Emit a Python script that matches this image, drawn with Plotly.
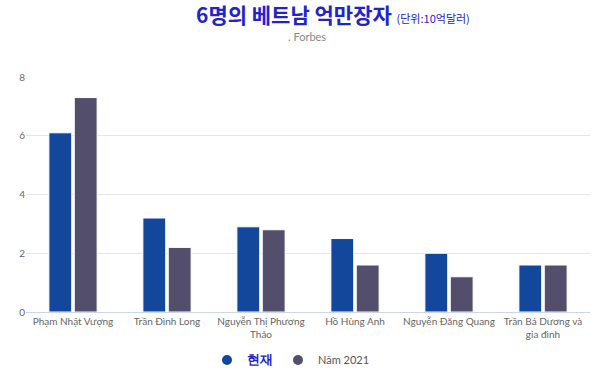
import plotly.graph_objects as go

categories = ["Phạm Nhật Vượng", "Trần Đình Long", "Nguyễn Thị Phương<br>Thảo",
              "Hồ Hùng Anh", "Nguyễn Đăng Quang", "Trần Bá Dương và<br>gia đình"]
current = [6.1, 3.2, 2.9, 2.5, 2.0, 1.6]
year2021 = [7.3, 2.2, 2.8, 1.6, 1.2, 1.6]
series_names = ["현재", "Năm 2021"]
colors = ["#12479b", "#544e6d"]
y_ticks = [0, 2, 4, 6, 8]

fig = go.Figure()
for vals, col in zip([current, year2021], colors):
    fig.add_trace(go.Bar(x=categories, y=vals, showlegend=False,
                         marker=dict(color=col, line=dict(color="#ffffff", width=1))))

legend_labels = ["<b><span style='color:#2323c8;font-size:13px'>" + series_names[0] + "</span></b>",
                 series_names[1]]
for lab, col in zip(legend_labels, colors):
    fig.add_trace(go.Scatter(x=[None], y=[None], mode="markers", name=lab,
                             marker=dict(symbol="circle", size=10, color=col)))

fig.update_layout(
    width=600, height=378,
    margin=dict(l=26, r=10, t=77, b=66),
    plot_bgcolor="white", paper_bgcolor="white",
    barmode="group", bargap=0.46, bargroupgap=0.1,
    font=dict(family="Lato", size=10, color="#666666"),
    showlegend=True,
    legend=dict(orientation="h", xref="container", yref="container",
                x=0.485, xanchor="center", y=1 - 360 / 378, yanchor="middle",
                font=dict(size=11, color="#555555"), traceorder="normal",
                itemwidth=30),
    xaxis=dict(showgrid=False, showline=True, linecolor="#ccd6eb", linewidth=1,
               ticks="", tickfont=dict(size=10, color="#666666"), automargin=False),
    yaxis=dict(range=[0, 8], tickvals=y_ticks, showgrid=True, gridcolor="#e6e6e6",
               zeroline=False, ticks="", tickfont=dict(size=10, color="#666666"),
               automargin=False),
)

fig.add_annotation(
    text="<b>6명의 베트남 억만장자</b> <span style='font-size:11px'>(단위:10억달러)</span>",
    xref="paper", yref="paper", x=0.298, y=1, yshift=63, xanchor="left", yanchor="middle",
    showarrow=False, font=dict(family="Noto Sans CJK KR", size=21, color="#2323c8"))
fig.add_annotation(
    text=". Forbes", xref="paper", yref="paper", x=0.499, y=1, yshift=41,
    xanchor="center", yanchor="middle", showarrow=False,
    font=dict(family="Lato", size=11, color="#888888"))

fig.write_html("out.html", config={"displayModeBar": False},
               post_script="document.body.style.margin='0';")
